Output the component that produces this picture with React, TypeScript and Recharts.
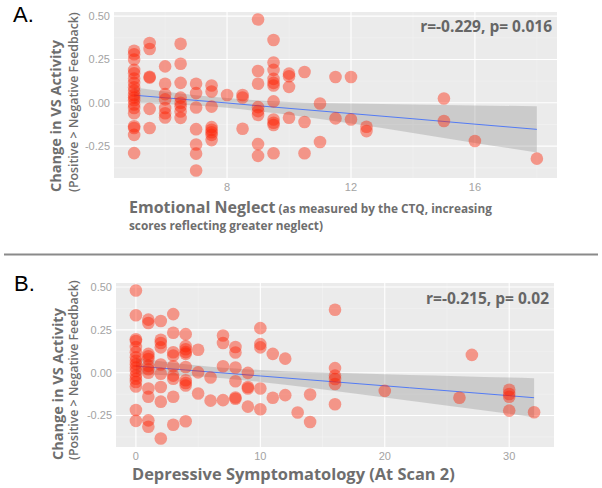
import React from 'react';
import {
  ComposedChart,
  Scatter,
  Area,
  Line,
  XAxis,
  YAxis,
  CartesianGrid,
} from 'recharts';

// panel A: emotional neglect (CTQ) vs change in VS activity
const neglectScores = [5, 5.5, 6, 6.5, 7, 7.5, 8, 8.5, 9, 9.5, 10, 10.5, 11, 11.5, 12, 12.5, 15, 16, 18];
const vsByNeglect = [
  [0.3, 0.28, 0.25, 0.19, 0.17, 0.14, 0.115, 0.09, 0.07, 0.045, 0.03, 0.015, -0.01, -0.03, -0.06, -0.135, -0.145, -0.185, -0.29],
  [0.345, 0.31, 0.15, 0.145, -0.035, -0.145],
  [0.21, 0.11, 0.05, 0.02, -0.03, -0.06, -0.085],
  [0.34, 0.225, 0.115, 0.03, 0.0, -0.02, -0.05, -0.087],
  [0.11, 0.056, -0.027, -0.152, -0.24, -0.293, -0.39],
  [0.1, 0.065, -0.022, -0.14, -0.155, -0.17, -0.185, -0.215],
  [0.045],
  [0.045, 0.031, -0.15],
  [0.48, 0.183, 0.11, -0.025, -0.048, -0.07, -0.238, -0.306],
  [0.362, 0.232, 0.19, 0.138, 0.115, 0.1, 0.008, -0.096, -0.115, -0.128, -0.291],
  [0.168, 0.153, 0.092, -0.086],
  [0.178, -0.111, -0.291],
  [-0.004, -0.226],
  [0.149, -0.09],
  [0.149, -0.096],
  [-0.138, -0.163],
  [0.025, -0.105],
  [-0.22],
  [-0.322],
];
const bandXA = [5, 6, 7, 8, 9, 10, 12, 14, 16, 18];
const fitA = [0.044, 0.029, 0.014, -0.001, -0.017, -0.032, -0.062, -0.092, -0.123, -0.153];
const loA = [-0.002, -0.007, -0.016, -0.029, -0.048, -0.069, -0.12, -0.174, -0.231, -0.286];
const hiA = [0.09, 0.065, 0.044, 0.027, 0.014, 0.005, -0.004, -0.01, -0.015, -0.02];
const ticksXA = [8, 12, 16];
const minorXA = [6, 10, 14, 18];

// panel B: depressive symptomatology vs change in VS activity
const depressionScores = [0, 1, 2, 3, 4, 5, 6, 7, 8, 9, 10, 11, 12, 13, 14, 16, 20, 26, 27, 30, 32];
const vsByDepression = [
  [0.48, 0.335, 0.195, 0.185, 0.15, 0.12, 0.09, 0.07, 0.05, 0.03, 0.01, -0.016, -0.035, -0.054, -0.08, -0.218, -0.281],
  [0.31, 0.29, 0.11, 0.096, 0.08, 0.04, 0.02, 0.0, -0.092, -0.14, -0.278, -0.315],
  [0.302, 0.192, 0.173, 0.148, 0.048, -0.006, -0.083, -0.169, -0.384],
  [0.342, 0.233, 0.119, 0.1, 0.038, -0.017, -0.035, -0.14, -0.304],
  [0.225, 0.155, 0.137, 0.12, 0.11, 0.033, -0.044, -0.06, -0.075, -0.283],
  [0.134, 0.002, -0.121],
  [-0.028, -0.163],
  [0.217, 0.173, 0.038, -0.16],
  [0.15, 0.118, 0.03, -0.05, -0.145, -0.152],
  [-0.001, -0.083, -0.092, -0.198],
  [0.26, 0.167, 0.148, -0.092, -0.213],
  [0.11, -0.146],
  [0.082, -0.131],
  [-0.232],
  [-0.127, -0.288],
  [0.367, 0.027, -0.017, -0.037, -0.066, -0.184],
  [-0.106],
  [-0.146],
  [0.104],
  [-0.099, -0.124, -0.14, -0.221],
  [-0.231],
];
const bandXB = [0, 2, 4, 6, 8, 10, 14, 18, 22, 26, 30, 32];
const fitB = [0.039, 0.027, 0.016, 0.004, -0.007, -0.019, -0.042, -0.065, -0.088, -0.111, -0.134, -0.146];
const loB = [-0.009, -0.013, -0.018, -0.027, -0.039, -0.054, -0.088, -0.125, -0.163, -0.202, -0.24, -0.26];
const hiB = [0.087, 0.067, 0.05, 0.035, 0.025, 0.016, 0.004, -0.005, -0.013, -0.02, -0.028, -0.032];
const ticksXB = [0, 10, 20, 30];
const minorXB = [5, 15, 25];

const ticksY = [-0.25, 0, 0.25, 0.5];
const minorY = [-0.375, -0.125, 0.125, 0.375];
const yDomain = [-0.4335, 0.5235];

const toPoints = (xs: number[], ys: number[][]) =>
  xs.flatMap((x, i) => ys[i].map((y) => ({ x, y })));
const toBand = (xs: number[], fit: number[], lo: number[], hi: number[]) =>
  xs.map((x, i) => ({ x, fit: fit[i], band: [lo[i], hi[i]] }));

const tickStyle = { fill: '#a3a3a3', fontSize: 11, fontFamily: 'Liberation Sans, Arial, sans-serif' };
const TITLE = '#6e6e6e';
const FONT = '"Open Sans", sans-serif';

const Dot = (p: any) => (
  <circle cx={p.cx} cy={p.cy} r={6.3} fill="#ff1e00" fillOpacity={0.42} />
);

function Panel({
  points,
  band,
  xDomain,
  xTicks,
  xMinor,
  yAxisWidth,
  rightMargin,
  height,
}: {
  points: { x: number; y: number }[];
  band: { x: number; fit: number; band: number[] }[];
  xDomain: number[];
  xTicks: number[];
  xMinor: number[];
  yAxisWidth: number;
  rightMargin: number;
  height: number;
}) {
  return (
    <ComposedChart
      width={602}
      height={height}
      data={band}
      margin={{ top: 12, right: rightMargin, bottom: 0, left: 0 }}
    >
      <CartesianGrid
        fill="#ebebeb"
        stroke="#f4f4f4"
        strokeWidth={0.6}
        horizontalValues={minorY}
        verticalValues={xMinor}
      />
      <CartesianGrid stroke="#ffffff" strokeWidth={1.1} horizontalValues={ticksY} verticalValues={xTicks} />
      <XAxis
        type="number"
        dataKey="x"
        domain={xDomain}
        ticks={xTicks}
        allowDataOverflow
        height={20}
        axisLine={false}
        tickLine={false}
        tickSize={0}
        tickMargin={5}
        tick={tickStyle}
      />
      <YAxis
        type="number"
        domain={yDomain}
        ticks={ticksY}
        allowDataOverflow
        width={yAxisWidth}
        axisLine={false}
        tickLine={false}
        tickSize={0}
        tickMargin={4}
        tick={tickStyle}
        tickFormatter={(v: number) => v.toFixed(2)}
      />
      <Scatter data={points} dataKey="y" shape={Dot} isAnimationActive={false} />
      <Area
        dataKey="band"
        type="monotone"
        stroke="none"
        fill="#999999"
        fillOpacity={0.38}
        isAnimationActive={false}
      />
      <Line dataKey="fit" type="linear" stroke="#3366ff" strokeWidth={0.8} dot={false} isAnimationActive={false} />
    </ComposedChart>
  );
}

export default function App() {
  const pointsA = toPoints(neglectScores, vsByNeglect);
  const pointsB = toPoints(depressionScores, vsByDepression);
  return (
    <div style={{ position: 'absolute', left: 0, top: 0, width: 602, height: 488, background: '#fff' }}>
      <div style={{ position: 'absolute', left: 0, top: 0 }}>
        <Panel
          points={pointsA}
          band={toBand(bandXA, fitA, loA, hiA)}
          xDomain={[4.35, 18.65]}
          xTicks={ticksXA}
          xMinor={minorXA}
          yAxisWidth={114}
          rightMargin={45}
          height={198}
        />
      </div>
      <div style={{ position: 'absolute', left: 0, top: 271 }}>
        <Panel
          points={pointsB}
          band={toBand(bandXB, fitB, loB, hiB)}
          xDomain={[-1.6, 33.6]}
          xTicks={ticksXB}
          xMinor={minorXB}
          yAxisWidth={116}
          rightMargin={48}
          height={196}
        />
      </div>
      <svg
        width={602}
        height={488}
        style={{ position: 'absolute', left: 0, top: 0, pointerEvents: 'none' }}
      >
        <g fontFamily="Liberation Sans, Arial, sans-serif" fill="#000">
          <text x={13} y={22} fontSize={22}>A.</text>
          <text x={14} y={291} fontSize={22}>B.</text>
        </g>
        <line x1={4} x2={598} y1={254.5} y2={254.5} stroke="#8a8a8a" strokeWidth={2} />
        <g fontFamily={FONT} fill={TITLE} fontWeight={700}>
          <text transform="translate(61,192) rotate(-90)" fontSize={14.5}>Change in VS Activity</text>
          <text transform="translate(77.5,192) rotate(-90)" fontSize={12.3} fontWeight={600}>(Positive &gt; Negative Feedback)</text>
          <text transform="translate(62.5,460) rotate(-90)" fontSize={14.5}>Change in VS Activity</text>
          <text transform="translate(78,460) rotate(-90)" fontSize={12.3} fontWeight={600}>(Positive &gt; Negative Feedback)</text>

          <text x={129} y={213}>
            <tspan fontSize={16}>Emotional Neglect</tspan>
            <tspan fontSize={11.8}> (as measured by the CTQ, increasing</tspan>
          </text>
          <text x={129} y={230} fontSize={11.8}>scores reflecting greater neglect)</text>
          <text x={132} y={480} fontSize={16.4}>Depressive Symptomatology (At Scan 2)</text>

          <text x={552} y={32} fontSize={15.5} textAnchor="end" fill="#666">r=-0.229, p= 0.016</text>
          <text x={549} y={304} fontSize={15.5} textAnchor="end" fill="#666">r=-0.215, p= 0.02</text>
        </g>
      </svg>
    </div>
  );
}
